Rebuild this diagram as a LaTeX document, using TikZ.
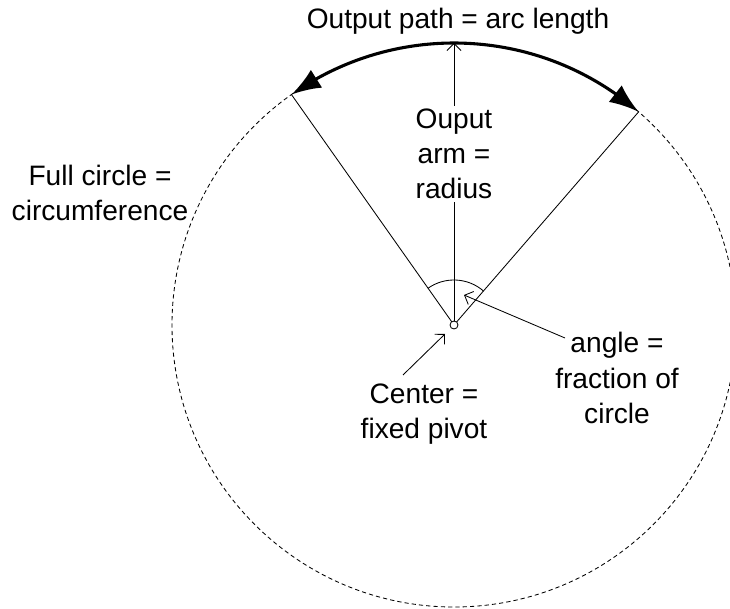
\documentclass[tikz,border=0pt]{standalone}
\usepackage{fontspec}
\setmainfont{Liberation Sans}
\usepackage{tikz}
\usetikzlibrary{arrows.meta,bending,calc,positioning}

\begin{document}
\begin{tikzpicture}[
    lbl/.style={
      align=center, inner sep=2pt,
      font=\rmfamily\fontsize{20}{25}\selectfont
    },
    conn/.style={line width=0.6pt, draw=black},
    arr/.style={-{Straight Barb[length=5pt,width=10pt]}, line width=0.6pt, draw=black},
    arrBig/.style={{Latex[length=21pt,width=15pt,flex]}-{Latex[length=21pt,width=15pt,flex]}, line width=2.2pt, draw=black},
    rim/.style={line width=0.6pt, draw=black, dash pattern=on 3pt off 2.2pt}
  ]

  % Frame
  \clip (-11.35,-7.1) rectangle (6.9,8.125);

  % Key coordinates
  \def\R{7.05}
  \coordinate (O) at (0,0);
  \coordinate (A) at (125.2:\R);   % left end of output arc
  \coordinate (B) at (49.1:\R);    % right end of output arc
  \coordinate (T) at (90:\R);      % top of output arm

  % Full circle
  \draw[rim] (O) circle (\R);

  % Radial lines
  \draw[conn] (O) -- (A);
  \draw[conn] (O) -- (B);

  % Output arm
  \draw[arr] (O) -- (T);

  % Output path
  \draw[arrBig] (A) arc[start angle=125.2, end angle=49.1, radius=\R];

  % Angle
  \draw[conn] (125.2:1.125) arc[start angle=125.2, end angle=49.1, radius=1.125];

  % Pivot
  \node[draw, circle, line width=0.6pt, minimum size=0.2cm, inner sep=0pt, fill=white] (P) at (O) {};

  % Labels
  \node[lbl] (path) at (0.1,7.6) {Output path = arc length};
  \node[lbl, fill=white] (arm) at (0,4.275) {Ouput\\arm =\\radius};
  \node[lbl] (full) at (-8.85,3.3) {Full circle =\\circumference};
  \node[lbl] (cen) at (-0.75,-2.225) {Center =\\fixed pivot};
  \node[lbl] (ang) at (4.075,-1.325) {angle =\\fraction of\\circle};

  % Pointers
  \coordinate (angTail) at (2.775,-0.325);
  \coordinate (angTip) at (0.25,0.75);
  \coordinate (cenTail) at (-1.275,-1.25);
  \coordinate (cenTip) at (-0.225,-0.225);
  \draw[arr] (angTail) -- (angTip);
  \draw[arr] (cenTail) -- (cenTip);

\end{tikzpicture}
\end{document}
